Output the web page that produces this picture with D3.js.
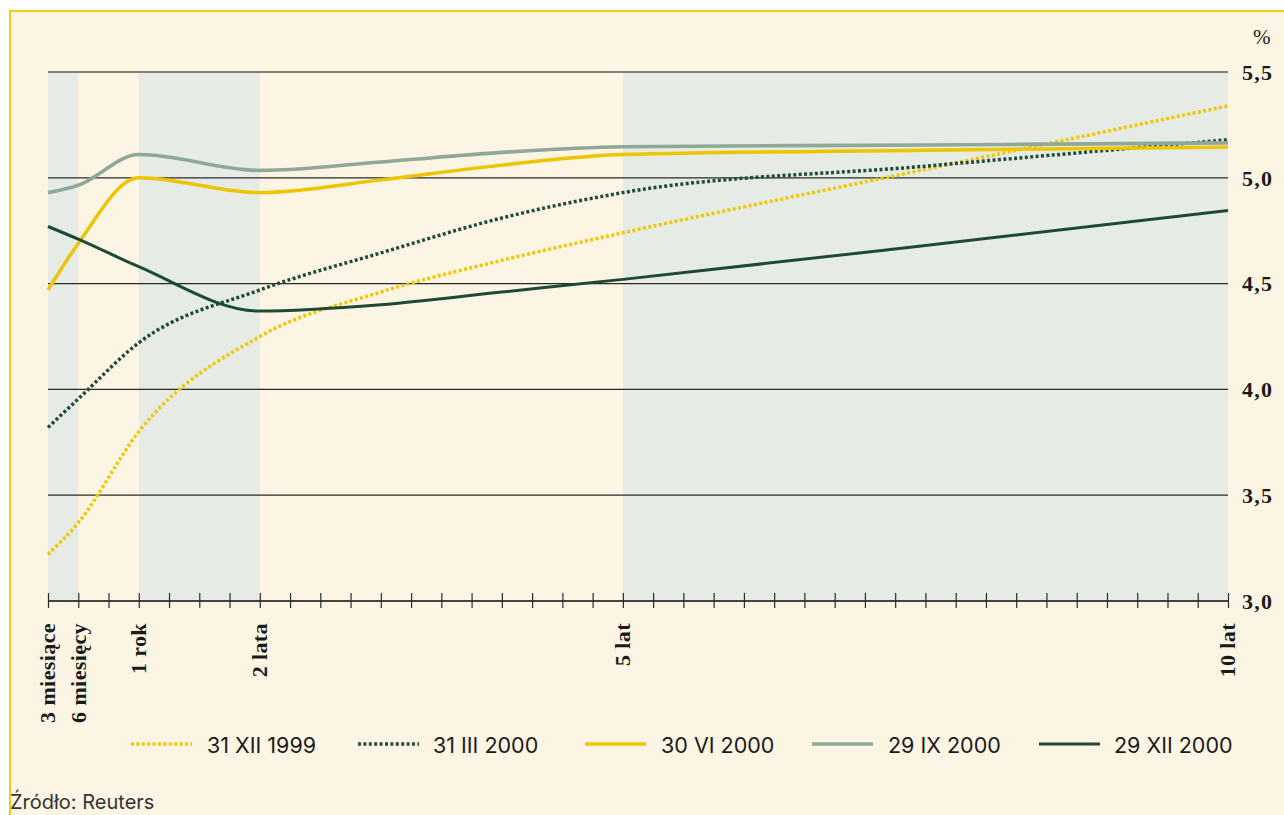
<!DOCTYPE html>
<html>
<head>
<meta charset="utf-8">
<script src="https://cdn.jsdelivr.net/npm/d3@7"></script>
<style>
  html, body { margin: 0; padding: 0; background: #ffffff; }
  svg { display: block; }
</style>
</head>
<body>
<svg id="chart" width="1284" height="815"></svg>
<script>
// ---- data ----
const tenors = [3, 6, 12, 24, 36, 48, 60, 90, 120]; // months
const seriesNames = ["31 XII 1999", "31 III 2000", "30 VI 2000", "29 IX 2000", "29 XII 2000"];
const s1999_12 = [3.22, 3.37, 3.80, 4.25, 4.46, 4.61, 4.74, 5.04, 5.34];
const s2000_03 = [3.82, 3.955, 4.22, 4.47, 4.645, 4.81, 4.93, 5.055, 5.18];
const s2000_06 = [4.47, 4.69, 5.00, 4.93, 4.99, 5.06, 5.11, 5.13, 5.145];
const s2000_09 = [4.93, 4.965, 5.11, 5.035, 5.075, 5.12, 5.147, 5.155, 5.165];
const s2000_12 = [4.77, 4.71, 4.58, 4.37, 4.40, 4.46, 4.52, 4.68, 4.845];
const yTicks = [3.0, 3.5, 4.0, 4.5, 5.0, 5.5];
const xLabelTenors = [3, 6, 12, 24, 60, 120];
const xLabels = ["3 miesiące", "6 miesięcy", "1 rok", "2 lata", "5 lat", "10 lat"];
const bands = [[3, 6], [12, 24], [60, 120]];

// ---- styles ----
const styles = [
  { color: "#f0c800", dash: "3,2.4", width: 3.5 },
  { color: "#1f4d37", dash: "3,2.4", width: 3.5 },
  { color: "#ecc400", dash: null, width: 3.4 },
  { color: "#8fa897", dash: null, width: 3.6 },
  { color: "#1e4a35", dash: null, width: 3 }
];
const legendPos = [
  { x1: 131, x2: 192, tx: 207 },
  { x1: 358, x2: 419, tx: 433 },
  { x1: 585, x2: 646, tx: 661 },
  { x1: 812, x2: 873, tx: 888 },
  { x1: 1039, x2: 1100, tx: 1114 }
];

const allSeries = [s1999_12, s2000_03, s2000_06, s2000_09, s2000_12];

const svg = d3.select("#chart");
const W = 1284, H = 815;

// frame
svg.append("rect").attr("x", 10).attr("y", 11).attr("width", W + 20).attr("height", H + 20)
  .attr("fill", "#fdf5e4").attr("stroke", "#f2cb1a").attr("stroke-width", 2);

const x = d3.scaleLinear().domain([3, 120]).range([48, 1228]);
const y = d3.scaleLinear().domain([3, 5.5]).range([601, 72]);

// bands
svg.append("g").selectAll("rect").data(bands).join("rect")
  .attr("x", d => x(d[0])).attr("width", d => x(d[1]) - x(d[0]))
  .attr("y", y(5.5)).attr("height", y(3) - y(5.5))
  .attr("fill", "#e6ebe5");

// grid lines
svg.append("g").selectAll("line").data(yTicks).join("line")
  .attr("x1", x(3)).attr("x2", x(120))
  .attr("y1", d => y(d)).attr("y2", d => y(d))
  .attr("stroke", d => d === 5.5 ? "#5f5b55" : "#2a2a2a")
  .attr("stroke-width", d => d === 5.5 ? 1.6 : 1.2);

// x axis ticks
const xAxis = d3.axisBottom(x).tickValues(d3.range(3, 121, 3)).tickSize(7).tickSizeOuter(0).tickFormat("");
const gx = svg.append("g").attr("transform", `translate(0,${y(3)})`).call(xAxis);
gx.select(".domain").remove();
gx.selectAll(".tick line").attr("stroke", "#2a2a2a").attr("stroke-width", 1.2).attr("y1", -8).attr("y2", 7);
svg.append("line").attr("x1", x(3)).attr("x2", x(120)).attr("y1", y(3)).attr("y2", y(3))
  .attr("stroke", "#2a2a2a").attr("stroke-width", 1.4);

// x labels
svg.append("g").selectAll("text").data(xLabelTenors).join("text")
  .attr("transform", d => `translate(${x(d)},623) rotate(-90)`)
  .attr("text-anchor", "end").attr("dy", "0.34em")
  .attr("font-family", "Liberation Serif, serif").attr("font-size", 22)
  .attr("font-weight", "bold").attr("letter-spacing", 0.4)
  .attr("fill", "#1a1a1a")
  .text((d, i) => xLabels[i]);

// y labels (right)
svg.append("g").selectAll("text").data(yTicks).join("text")
  .attr("x", 1242).attr("y", d => y(d)).attr("dy", "0.35em")
  .attr("font-family", "Liberation Serif, serif").attr("font-size", 22)
  .attr("font-weight", "bold")
  .attr("letter-spacing", 1.2).attr("fill", "#1a1a1a")
  .text(d => d3.format(".1f")(d).replace(".", ","));
svg.append("text").attr("x", 1253).attr("y", 44)
  .attr("font-family", "Liberation Serif, serif").attr("font-size", 21).attr("fill", "#1a1a1a").text("%");

// lines
const line = d3.line().x(d => x(d[0])).y(d => y(d[1])).curve(d3.curveMonotoneX);
svg.append("g").selectAll("path").data(allSeries).join("path")
  .attr("d", vals => line(tenors.map((t, i) => [t, vals[i]])))
  .attr("fill", "none")
  .attr("stroke", (d, i) => styles[i].color)
  .attr("stroke-width", (d, i) => styles[i].width)
  .attr("stroke-dasharray", (d, i) => styles[i].dash)
  .attr("stroke-linecap", "butt");

// legend
const lg = svg.append("g");
seriesNames.forEach((name, i) => {
  const p = legendPos[i], s = styles[i];
  lg.append("line").attr("x1", p.x1).attr("x2", p.x2).attr("y1", 744).attr("y2", 744)
    .attr("stroke", s.color).attr("stroke-width", s.width).attr("stroke-dasharray", s.dash);
  lg.append("text").attr("x", p.tx).attr("y", 753)
    .attr("font-family", "Inter, sans-serif").attr("font-size", 21.5).attr("fill", "#1a1a1a")
    .text(name);
});

// source
svg.append("text").attr("x", 10).attr("y", 809)
  .attr("font-family", "Inter, sans-serif").attr("font-size", 20).attr("fill", "#333")
  .text("Źródło: Reuters");
</script>
</body>
</html>
